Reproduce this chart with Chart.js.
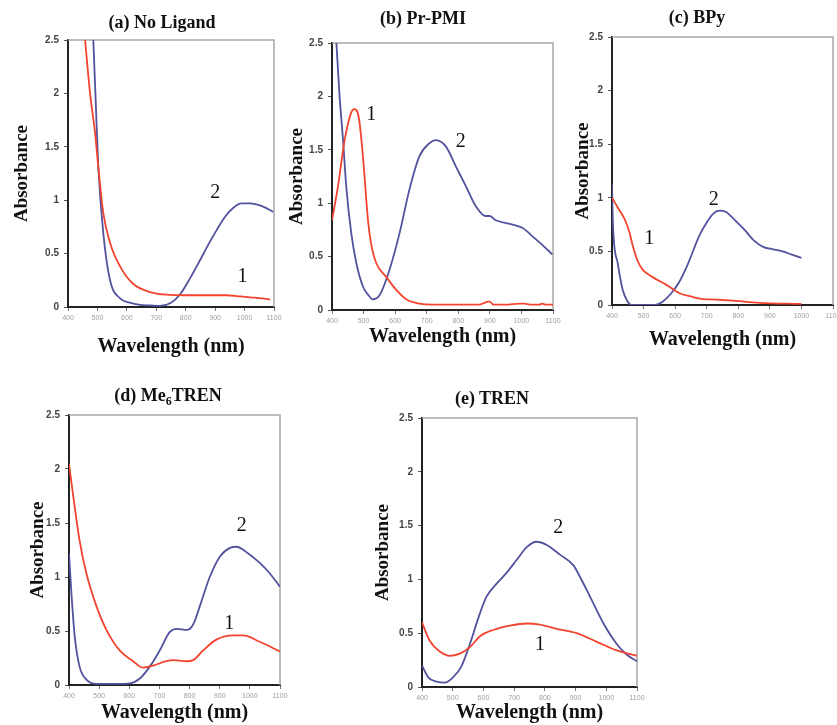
<!DOCTYPE html>
<html>
<head>
<meta charset="utf-8">
<script src="https://cdn.jsdelivr.net/npm/chart.js@4.4.0/dist/chart.umd.min.js"></script>
<style>
  body { margin: 0; background: #fff; width: 837px; height: 725px; overflow: hidden; position: relative; }
  canvas { position: absolute; }
  .ttl { position: absolute; font: bold 18px 'Liberation Serif', serif; color: #111;
         transform: translate(-50%, -50%); white-space: nowrap; }
  .ttl sub { font-size: 12px; }
</style>
</head>
<body>
<script>
// (a) No Ligand
const aWl1 = [458, 475, 492, 503, 520, 543, 577, 620, 679, 735, 800, 850, 900, 940, 980, 1020, 1060, 1087];
const aAbs1 = [2.5, 2.0, 1.63, 1.31, 0.88, 0.6, 0.38, 0.22, 0.14, 0.115, 0.11, 0.11, 0.11, 0.11, 0.1, 0.09, 0.08, 0.07];
const aWl2 = [486, 494, 503, 520, 543, 577, 610, 645, 680, 713, 750, 781, 815, 849, 880, 905, 935, 962, 990, 1018, 1040, 1063, 1097];
const aAbs2 = [2.5, 1.94, 1.31, 0.69, 0.25, 0.08, 0.04, 0.02, 0.015, 0.01, 0.04, 0.12, 0.27, 0.44, 0.6, 0.72, 0.85, 0.93, 0.97, 0.97, 0.96, 0.94, 0.89];

// (b) Pr-PMI
const bWl1 = [400, 419, 440, 461, 471, 485, 498, 514, 524, 540, 572, 603, 635, 677, 720, 761, 810, 866, 885, 898, 912, 950, 993, 1010, 1030, 1056, 1066, 1076, 1100];
const bAbs1 = [0.84, 1.16, 1.59, 1.85, 1.88, 1.8, 1.44, 0.84, 0.62, 0.44, 0.31, 0.19, 0.1, 0.06, 0.05, 0.05, 0.05, 0.05, 0.07, 0.08, 0.05, 0.05, 0.06, 0.06, 0.05, 0.05, 0.06, 0.05, 0.05];
const bWl2 = [414, 424, 435, 445, 461, 477, 498, 515, 529, 551, 582, 614, 645, 677, 708, 729, 761, 793, 824, 856, 887, 900, 919, 972, 1003, 1035, 1066, 1098];
const bAbs2 = [2.5, 2.0, 1.59, 1.16, 0.72, 0.44, 0.22, 0.14, 0.1, 0.14, 0.375, 0.72, 1.125, 1.44, 1.56, 1.59, 1.53, 1.34, 1.16, 0.97, 0.88, 0.88, 0.84, 0.8, 0.77, 0.69, 0.61, 0.52];

// (c) BPy
const cWl1 = [400, 420, 440, 455, 466, 480, 497, 529, 571, 614, 650, 677, 730, 783, 868, 1000];
const cAbs1 = [1.0, 0.9, 0.8, 0.68, 0.55, 0.42, 0.33, 0.26, 0.19, 0.11, 0.08, 0.06, 0.05, 0.04, 0.02, 0.01];
const cWl2 = [400, 403, 418, 434, 450, 460, 535, 560, 585, 610, 640, 677, 700, 720, 740, 760, 790, 820, 850, 880, 910, 940, 970, 1000];
const cAbs2 = [1.13, 0.75, 0.39, 0.14, 0.03, 0, 0, 0.03, 0.1, 0.2, 0.38, 0.65, 0.77, 0.85, 0.88, 0.87, 0.79, 0.7, 0.6, 0.54, 0.52, 0.5, 0.47, 0.44];

// (d) Me6TREN
const dWl1 = [400, 413, 435, 458, 491, 524, 568, 613, 646, 679, 723, 746, 790, 812, 845, 889, 945, 978, 1033, 1100];
const dAbs1 = [2.05, 1.77, 1.34, 1.03, 0.73, 0.51, 0.32, 0.22, 0.16, 0.18, 0.22, 0.23, 0.22, 0.23, 0.32, 0.42, 0.46, 0.46, 0.4, 0.31];
const dWl2 = [400, 408, 419, 435, 458, 491, 560, 602, 635, 668, 701, 734, 757, 790, 812, 834, 867, 901, 934, 956, 989, 1033, 1067, 1100];
const dAbs2 = [1.22, 0.85, 0.45, 0.17, 0.05, 0.01, 0.01, 0.015, 0.06, 0.17, 0.32, 0.49, 0.52, 0.51, 0.56, 0.73, 1.0, 1.19, 1.27, 1.28, 1.23, 1.13, 1.03, 0.91];

// (e) TREN
const eWl1 = [400, 425, 458, 490, 523, 556, 588, 632, 686, 741, 784, 839, 904, 969, 1034, 1100];
const eAbs1 = [0.6, 0.43, 0.33, 0.29, 0.31, 0.37, 0.47, 0.53, 0.57, 0.59, 0.58, 0.54, 0.5, 0.42, 0.34, 0.29];
const eWl2 = [400, 420, 447, 474, 501, 528, 556, 588, 610, 643, 675, 708, 741, 773, 806, 849, 893, 915, 947, 991, 1034, 1067, 1100];
const eAbs2 = [0.2, 0.09, 0.05, 0.04, 0.09, 0.19, 0.4, 0.68, 0.84, 0.96, 1.06, 1.18, 1.3, 1.35, 1.32, 1.23, 1.13, 1.02, 0.84, 0.59, 0.4, 0.3, 0.24];

// curve labels "1"/"2" in data units [wavelength, absorbance]
const aNotes = [['1', 993, 0.28], ['2', 900, 1.07]];
const bNotes = [['1', 524, 1.83], ['2', 808, 1.58]];
const cNotes = [['1', 518, 0.62], ['2', 722, 0.98]];
const dNotes = [['1', 932, 0.57], ['2', 973, 1.47]];
const eNotes = [['1', 784, 0.39], ['2', 844, 1.48]];

const xTicks = [400, 1100, 100];
const yTicks = [0, 2.5, 0.5];

const RED = '#f2442f';
const BLUE = '#52529e';

// layout of each panel: canvas box, plot box, axis-title centres, panel title centre
const panels = [
  { title: '(a) No Ligand', box: [0, 0, 284, 360], plot: [68, 40, 274, 307], yT: 22, xT: 347, tp: [162, 22],
    s1: [aWl1, aAbs1], s2: [aWl2, aAbs2], notes: aNotes },
  { title: '(b) Pr-PMI', box: [282, 0, 290, 360], plot: [332, 43, 553, 310], yT: 297, xT: 337, tp: [423, 18],
    s1: [bWl1, bAbs1], s2: [bWl2, bAbs2], notes: bNotes },
  { title: '(c) BPy', box: [568, 0, 290, 360], plot: [612, 37, 833, 305], yT: 583, xT: 340, tp: [697, 17],
    s1: [cWl1, cAbs1], s2: [cWl2, cAbs2], notes: cNotes },
  { title: '(d) Me<sub>6</sub>TREN', box: [0, 370, 300, 355], plot: [69, 415, 280, 685], yT: 38, xT: 715, tp: [168, 397],
    s1: [dWl1, dAbs1], s2: [dWl2, dAbs2], notes: dNotes },
  { title: '(e) TREN', box: [360, 370, 300, 355], plot: [422, 418, 637, 687], yT: 383, xT: 715, tp: [492, 398],
    s1: [eWl1, eAbs1], s2: [eWl2, eAbs2], notes: eNotes },
];

const pts = (wl, ab) => wl.map((w, i) => ({ x: w, y: ab[i] }));

// grey frame on top and right of the plot area
const framePlugin = {
  id: 'frame',
  beforeDatasetsDraw(chart) {
    const a = chart.chartArea, ctx = chart.ctx;
    ctx.save();
    ctx.strokeStyle = '#a8a8a8';
    ctx.lineWidth = 1.5;
    ctx.beginPath();
    ctx.moveTo(a.left, a.top);
    ctx.lineTo(a.right, a.top);
    ctx.lineTo(a.right, a.bottom);
    ctx.stroke();
    ctx.restore();
  }
};

const notesPlugin = {
  id: 'notes',
  afterDatasetsDraw(chart, args, opts) {
    const ctx = chart.ctx, xs = chart.scales.x, ys = chart.scales.y;
    ctx.save();
    ctx.font = '20px "Liberation Serif", serif';
    ctx.fillStyle = '#111';
    ctx.textAlign = 'center';
    ctx.textBaseline = 'middle';
    opts.items.forEach(n => ctx.fillText(n[0], xs.getPixelForValue(n[1]), ys.getPixelForValue(n[2])));
    ctx.restore();
  }
};

panels.forEach(p => {
  const [cl, ct, cw, ch] = p.box;
  const [pl, pt, pr, pb] = p.plot;
  const cv = document.createElement('canvas');
  cv.width = cw; cv.height = ch;
  cv.style.left = cl + 'px'; cv.style.top = ct + 'px';
  document.body.appendChild(cv);

  const t = document.createElement('div');
  t.className = 'ttl';
  t.innerHTML = p.title;
  t.style.left = p.tp[0] + 'px'; t.style.top = p.tp[1] + 'px';
  document.body.appendChild(t);

  const line = (d, color) => ({
    data: pts(d[0], d[1]), borderColor: color, borderWidth: 1.8,
    pointRadius: 0, cubicInterpolationMode: 'monotone', fill: false
  });

  new Chart(cv, {
    type: 'line',
    data: { datasets: [line(p.s1, RED), line(p.s2, BLUE)] },
    options: {
      responsive: false,
      animation: false,
      events: [],
      layout: { padding: { left: 0, top: pt - ct, right: cl + cw - pr, bottom: 0 } },
      plugins: {
        legend: { display: false },
        tooltip: { enabled: false },
        notes: { items: p.notes }
      },
      scales: {
        x: {
          type: 'linear', min: xTicks[0], max: xTicks[1],
          ticks: { stepSize: xTicks[2], maxRotation: 0, autoSkip: false, padding: 3,
                   callback: v => String(v),
                   color: '#a0a0a0', font: { family: 'Liberation Sans', size: 7 } },
          grid: { drawOnChartArea: false, tickLength: 4, color: '#777' },
          border: { display: true, color: '#222', width: 2 },
          title: { display: true, text: 'Wavelength (nm)', color: '#111',
                   font: { family: 'Liberation Serif', size: 20, weight: 'bold', lineHeight: 1.2 },
                   padding: { top: 0, bottom: Math.max(0, ct + ch - p.xT - 12) } },
          afterFit(s) { s.height = ct + ch - pb; s.paddingLeft = 0; s.paddingRight = 0; }
        },
        y: {
          min: yTicks[0], max: yTicks[1],
          ticks: { stepSize: yTicks[2], padding: 5, color: '#444',
                   callback: v => String(Math.round(v * 10) / 10),
                   font: { family: 'Liberation Sans', size: 10, weight: 'bold' } },
          grid: { drawOnChartArea: false, tickLength: 4, color: '#555' },
          border: { display: true, color: '#222', width: 2 },
          title: { display: true, text: 'Absorbance', color: '#111',
                   font: { family: 'Liberation Serif', size: 19, weight: 'bold', lineHeight: 1.2 },
                   padding: { top: Math.max(0, p.yT - cl - 11.4), bottom: 0 } },
          afterFit(s) { s.width = pl - cl; s.paddingTop = 0; s.paddingBottom = 0; }
        }
      }
    },
    plugins: [framePlugin, notesPlugin]
  });
});
</script>
</body>
</html>
